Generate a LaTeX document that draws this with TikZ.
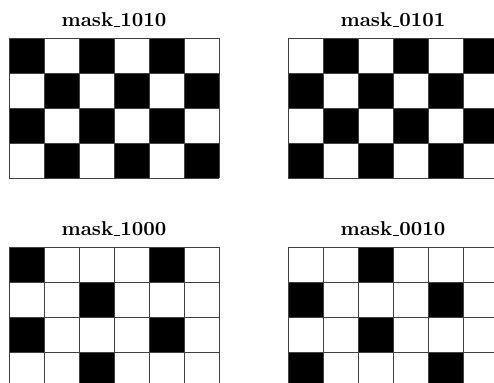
\documentclass[tikz,border=0pt]{standalone}
\tikzset{
  cellline/.style={draw=black!75,line width=0.45pt},
  masktitle/.style={font=\bfseries, anchor=base, inner sep=0pt},
  blackcell/.style={fill=black}
}
\newcommand\usc{\leavevmode\kern.06em\vbox{\hrule width.3em}}
\newcommand\drawmask[5]{%
  \node[masktitle] (#1) at ({#2+105},{#3-11}) {#4};
  \foreach \row [count=\r from 0] in {#5} {
    \foreach \v [count=\c from 0] in \row {
      \ifnum\v=1 \fill[blackcell] ({#2+35*\c},{#3+35*\r}) rectangle ++(35,35);\fi
    }
  }
  \foreach \c in {0,...,6} {\draw[cellline] ({#2+35*\c},#3) -- ++(0,140);}
  \foreach \r in {0,...,4} {\draw[cellline] (#2,{#3+35*\r}) -- ++(210,0);}
}
\begin{document}
\begin{tikzpicture}[x=0.5pt,y=-0.5pt]
\useasboundingbox (0,0) rectangle (494,383);
\clip (0,0) rectangle (494,383);
\drawmask{m1010}{9}{38}{mask\usc 1010}{{1,0,1,0,1,0},{0,1,0,1,0,1},{1,0,1,0,1,0},{0,1,0,1,0,1}}
\drawmask{m0101}{288}{38}{mask\usc 0101}{{0,1,0,1,0,1},{1,0,1,0,1,0},{0,1,0,1,0,1},{1,0,1,0,1,0}}
\drawmask{m1000}{9}{247}{mask\usc 1000}{{1,0,0,0,1,0},{0,0,1,0,0,0},{1,0,0,0,1,0},{0,0,1,0,0,0}}
\drawmask{m0010}{288}{247}{mask\usc 0010}{{0,0,1,0,0,0},{1,0,0,0,1,0},{0,0,1,0,0,0},{1,0,0,0,1,0}}
\end{tikzpicture}
\end{document}
